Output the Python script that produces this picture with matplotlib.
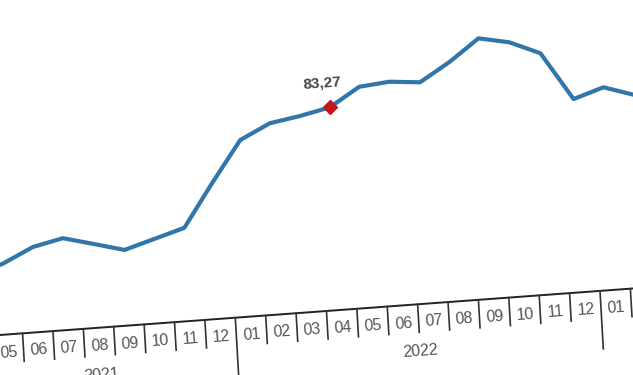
import numpy as np
import matplotlib
matplotlib.use("Agg")
import matplotlib.pyplot as plt
from matplotlib.transforms import Affine2D, ScaledTranslation

# data (months 2021-04 .. 2023-02)
months = ["04", "05", "06", "07", "08", "09", "10", "11", "12",
          "01", "02", "03", "04", "05", "06", "07", "08", "09", "10", "11", "12",
          "01", "02"]
years = ["2021"] * 9 + ["2022"] * 12 + ["2023"] * 2
values = [25.0, 29.18, 35.02, 37.73, 34.44, 31.07, 34.69, 38.31, 55.85,
          72.58, 78.54, 80.60, 83.27, 90.79, 91.94, 90.79, 98.19, 107.02, 104.48, 99.05, 79.32,
          83.23, 79.16]
highlight_idx = 12          # 2022-04
highlight_label = "83,27"

# layout (pixels of the flat chart, before the tilt)
W, H = 633, 375
cell_px = 30.39
anchor_idx, anchor_x = 9, 250.5
axis_y = 40
px_per_unit = 2.433
slope, lean = 0.0735, 0.058   # the picture is tilted / sheared a bit
tilt_deg = np.degrees(np.arctan(slope))

line_color = "#3176ab"
marker_color = "#c0161c"
text_color = "#555555"
font = ["Liberation Sans", "DejaVu Sans"]

fig = plt.figure(figsize=(W / 100, H / 100), dpi=100)
ax = fig.add_axes([0, 0, 1, 1])
ax.set_axis_off()
ax.set_xlim(anchor_idx - anchor_x / cell_px, anchor_idx + (W - anchor_x) / cell_px)
ax.set_ylim(-axis_y / px_per_unit, (H - axis_y) / px_per_unit)

skew = (Affine2D().translate(0, -axis_y)
        + Affine2D(np.array([[1, -lean, 0], [slope, 1, 0], [0, 0, 1]]))
        + Affine2D().translate(0, axis_y))
tr = ax.transData + skew


def shifted(dx, dy):
    return ax.transData + ScaledTranslation(dx / 72, dy / 72, fig.dpi_scale_trans) + skew


idx = list(range(len(values)))

# x axis line
ax.plot([-3, len(values) + 3], [0, 0], color="#222222", lw=1.4, transform=tr, clip_on=False)

# month separators and labels
tick_len = 28 / px_per_unit
year_len = 58 / px_per_unit
for i in range(len(months) + 1):
    new_year = i == 0 or i == len(months) or years[i] != years[i - 1]
    ln = year_len if new_year else tick_len
    ax.plot([i - 0.5, i - 0.5], [0, -ln], color="#333333", lw=1.2, transform=tr, clip_on=False)

for i, m in enumerate(months):
    ax.text(i, -18 / px_per_unit, m, transform=tr, rotation=tilt_deg, rotation_mode="anchor",
            ha="center", va="center", fontsize=11.5, color=text_color, family=font)

for y in ["2021", "2022", "2023"]:
    pos = [i for i in idx if years[i] == y]
    # 2023 runs on past the crop
    centre = (pos[0] + pos[-1]) / 2 if y != "2023" else pos[0] + 5.5
    ax.text(centre, -47 / px_per_unit, y, transform=tr, rotation=tilt_deg, rotation_mode="anchor",
            ha="center", va="center", fontsize=11.5, color=text_color, family=font)

# series
ax.plot(idx, values, color=line_color, lw=3.0, solid_joinstyle="round",
        transform=tr, clip_on=False)
ax.plot([highlight_idx], [values[highlight_idx]], marker="D", ms=7.5, color=marker_color,
        transform=tr, clip_on=False, linestyle="none")
ax.text(highlight_idx, values[highlight_idx], highlight_label, transform=shifted(-4.7, 17.6),
        rotation=tilt_deg, rotation_mode="anchor", ha="center", va="center",
        fontsize=11, fontweight="bold", color="#444444", family=font)

fig.savefig("out.png", dpi=100)
